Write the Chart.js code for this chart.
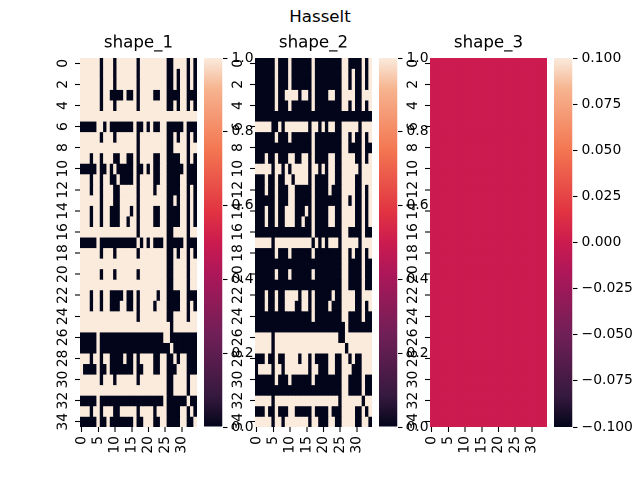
<!DOCTYPE html>
<html>
<head>
<meta charset="utf-8">
<script src="https://cdn.jsdelivr.net/npm/chart.js@4"></script>
<style>
  html, body { margin: 0; background: #fff; overflow: hidden; }
  #page { position: relative; width: 640px; height: 480px; }
  #page canvas { position: absolute; left: 0; top: 0; }
  #suptitle { position: absolute; left: 0; top: 7px; width: 640px; text-align: center;
    font: 16.67px "DejaVu Sans"; line-height: 20px; color: #000; }
</style>
</head>
<body>
<div id="page"><div id="suptitle">Hasselt</div></div>
<script>
var chartTitle = 'Hasselt'
var panelTitles = ['shape_1', 'shape_2', 'shape_3']
var xTickValues = [0, 5, 10, 15, 20, 25, 30]
var yTickValues = [0, 2, 4, 6, 8, 10, 12, 14, 16, 18, 20, 22, 24, 26, 28, 30, 32, 34]
var colorbarTicks1 = [0, 0.2, 0.4, 0.6, 0.8, 1]
var colorbarTicks3 = [-0.1, -0.075, -0.05, -0.025, 0, 0.025, 0.05, 0.075, 0.1]

// rows of cells, one digit per column
var shape1 = [
  '11111 10111 01111 11011 11111 10011 11010',
  '11111 10111 01111 11011 11111 10010 11010',
  '11111 10111 01111 11011 11111 10010 11010',
  '11111 10110 00010 01011 11001 10000 11000',
  '11111 10111 01111 11011 11111 10010 11010',
  '11111 11111 11111 11111 11111 11111 11111',
  '00000 11010 00000 01001 01001 10000 01000',
  '11111 10111 01111 11011 11111 10010 11010',
  '11111 11111 11111 11011 11111 10011 11011',
  '11101 10111 00110 01011 11001 10000 11010',
  '00000 10010 10000 01001 01001 10000 01000',
  '11101 10110 01000 01011 11001 10000 11000',
  '11101 10111 00111 11011 11011 10000 11010',
  '11111 10111 00111 11011 11111 10010 11010',
  '11101 10110 00111 01011 11001 10000 11010',
  '11101 10110 00110 11011 11001 10000 11010',
  '11111 11111 11111 11011 11111 10011 11011',
  '00000 10000 00000 00101 01000 10000 01000',
  '11111 10111 01111 11011 11111 10010 11010',
  '11111 11111 11111 11111 11111 10011 11011',
  '11111 10111 01111 11011 11111 10011 11011',
  '11111 11111 11111 11111 11111 10011 11011',
  '11101 10110 00010 01011 11101 10000 11000',
  '11101 10110 00110 01011 11011 10000 11010',
  '11111 11111 11111 11011 11111 10011 11011',
  '11111 11111 11111 11111 11111 11011 11111',
  '00000 10000 00000 00000 00000 11000 00000',
  '00000 10000 00000 00000 00000 00100 00000',
  '11101 10110 00010 01011 11001 10010 11000',
  '10000 10010 00000 01001 11001 10001 11000',
  '11111 10111 01111 11011 11111 10011 11011',
  '11111 11111 11111 11111 11111 10011 11011',
  '00000 10000 00000 00000 00000 10000 00100',
  '11101 10111 00111 11011 11011 10000 11010',
  '00000 10010 00000 01001 11001 10000 11001'
]

var shape2 = [
  '00000 01000 10000 00100 00000 01100 00101',
  '00000 01000 10000 00100 00000 01101 00101',
  '00000 01000 10000 00100 00000 01101 00101',
  '00000 01001 11101 10100 00110 01111 00111',
  '00000 01000 10000 00100 00000 01101 00101',
  '00000 00000 00000 00000 00000 00000 00000',
  '11111 00101 11111 10110 10110 01111 10111',
  '00000 01000 10000 00100 00000 01101 00101',
  '00000 00000 00000 00100 00000 01100 00100',
  '00010 01000 11001 10100 00110 01111 00101',
  '11111 01101 01111 10110 10110 01111 10111',
  '00010 01001 10111 10100 00110 01111 00111',
  '00010 01000 11000 00100 00100 01111 00101',
  '00000 01000 11000 00100 00000 01101 00101',
  '00010 01001 11000 10100 00110 01111 00101',
  '00010 01001 11001 00100 00110 01111 00101',
  '00000 00000 00000 00100 00000 01100 00100',
  '11111 01111 11111 11010 10111 01111 10111',
  '00000 01000 10000 00100 00000 01101 00101',
  '00000 00000 00000 00000 00000 01100 00100',
  '00000 01000 10000 00100 00000 01100 00100',
  '00000 00000 00000 00000 00000 01100 00100',
  '00010 01001 11101 10100 00010 01111 00111',
  '00010 01001 11001 10100 00100 01111 00101',
  '00000 00000 00000 00100 00000 01100 00100',
  '00000 00000 00000 00000 00000 00100 00000',
  '11111 01111 11111 11111 11111 00111 11111',
  '11111 01111 11111 11111 11111 11011 11111',
  '00010 01001 11101 10100 00110 01101 00111',
  '01111 01101 11111 10110 00110 01110 00111',
  '00000 01000 10000 00100 00000 01100 00100',
  '00000 00000 00000 00000 00000 01100 00100',
  '11111 01111 11111 11111 11111 01111 11011',
  '00010 01000 11000 00100 00100 01111 00101',
  '11111 01101 11111 10110 00110 01111 00110'
]

var shape3 = []
for (var r = 0; r < 35; r++) {
  shape3.push('00000 00000 00000 00000 00000 00000 00000')
}

// rocket colormap
var rocketStops = [
  [0, '#03051a'], [0.083, '#35193e'], [0.25, '#701f57'], [0.417, '#ad1759'], [0.5, '#cb1b4f'],
  [0.583, '#e13342'], [0.75, '#f37651'], [0.917, '#f6b48f'], [1, '#faebdd']
]

function hexToRgb(hex) {
  return [1, 3, 5].map(i => parseInt(hex.substr(i, 2), 16))
}

function rocketColor(t) {
  for (var i = 1; i < rocketStops.length; i++) {
    if (t <= rocketStops[i][0]) {
      var a = rocketStops[i - 1], b = rocketStops[i]
      var f = (t - a[0]) / (b[0] - a[0])
      var ca = hexToRgb(a[1]), cb = hexToRgb(b[1])
      return 'rgb(' + ca.map((c, k) => Math.round(c + (cb[k] - c) * f)).join(',') + ')'
    }
  }
  return rocketStops[rocketStops.length - 1][1]
}

function addCanvas() {
  var canvas = document.createElement('canvas')
  canvas.width = 640
  canvas.height = 480
  document.getElementById('page').appendChild(canvas)
  return canvas
}

var tickFont = { family: 'DejaVu Sans', size: 13.9 }
var top_ = 58, bottom_ = 427

function drawHeatmap(rows, title, left, vmin, vmax) {
  var cells = rows.map(row => row.replace(/ /g, '').split('').map(Number))
  var labels = cells[0].map((v, i) => String(i))

  var datasets = cells.map(row => ({
    data: row.map(() => 1),
    backgroundColor: row.map(v => rocketColor((v - vmin) / (vmax - vmin))),
    borderWidth: 0,
    inflateAmount: 0.3, // hides the seams between neighbouring cells
    barPercentage: 1,
    categoryPercentage: 1
  }))

  new Chart(addCanvas(), {
    type: 'bar',
    data: { labels: labels, datasets: datasets },
    options: {
      responsive: false,
      animation: false,
      devicePixelRatio: 2,
      events: [],
      layout: { padding: { left: left - 30, right: 640 - left - 117, top: 0, bottom: 0 } },
      plugins: {
        legend: { display: false },
        tooltip: { enabled: false },
        title: {
          display: true,
          text: title,
          fullSize: false,
          color: '#000',
          font: { family: 'DejaVu Sans', size: 16.67, weight: 'normal', lineHeight: 1 },
          padding: { top: 35, bottom: 6.33 }
        }
      },
      scales: {
        x: {
          stacked: true,
          border: { display: false },
          grid: { offset: false, drawOnChartArea: false, tickLength: 5, tickWidth: 1.1, tickColor: '#000' },
          ticks: { autoSkip: false, minRotation: 90, maxRotation: 90, padding: 4, color: '#000', font: tickFont },
          afterBuildTicks: s => { s.ticks = s.ticks.filter(t => xTickValues.includes(t.value)) },
          afterFit: s => { s.height = 480 - bottom_ }
        },
        y: {
          stacked: true,
          reverse: true,
          min: 0,
          max: rows.length,
          border: { display: false },
          grid: { drawOnChartArea: false, tickLength: 5, tickWidth: 1.1, tickColor: '#000' },
          ticks: {
            autoSkip: false,
            minRotation: 90,
            maxRotation: 90,
            crossAlign: 'center',
            padding: 3,
            color: '#000',
            font: tickFont,
            callback: v => String(v - 0.5)
          },
          afterBuildTicks: s => { s.ticks = yTickValues.map(v => ({ value: v + 0.5 })) },
          afterFit: s => { s.width = 30 }
        }
      }
    }
  })
}

function drawColorbar(left, vmin, vmax, ticks, digits) {
  new Chart(addCanvas(), {
    type: 'bar',
    data: {
      labels: [''],
      datasets: [{
        data: [[vmin, vmax]],
        borderWidth: 0,
        inflateAmount: 0,
        barPercentage: 1,
        categoryPercentage: 1,
        backgroundColor: function (ctx) {
          var area = ctx.chart.chartArea
          if (!area) return '#000'
          var grad = ctx.chart.ctx.createLinearGradient(0, area.bottom, 0, area.top)
          rocketStops.forEach(s => grad.addColorStop(s[0], s[1]))
          return grad
        }
      }]
    },
    options: {
      responsive: false,
      animation: false,
      events: [],
      layout: { padding: { left: left, right: 640 - left - 18.5 - 60, top: top_, bottom: 480 - bottom_ } },
      plugins: { legend: { display: false }, tooltip: { enabled: false } },
      scales: {
        x: { display: false },
        y: {
          position: 'right',
          min: vmin,
          max: vmax,
          border: { display: false },
          grid: { drawOnChartArea: false, tickLength: 5, tickWidth: 1.1, tickColor: '#000' },
          ticks: {
            autoSkip: false,
            padding: 4,
            color: '#000',
            font: tickFont,
            callback: v => v.toFixed(digits).replace('-', '\u2212')
          },
          afterBuildTicks: s => { s.ticks = ticks.map(v => ({ value: v })) },
          afterFit: s => { s.width = 60 }
        }
      }
    }
  })
}

document.getElementById('suptitle').textContent = chartTitle

drawHeatmap(shape1, panelTitles[0], 80, 0, 1)
drawColorbar(204, 0, 1, colorbarTicks1, 1)
drawHeatmap(shape2, panelTitles[1], 255, 0, 1)
drawColorbar(379, 0, 1, colorbarTicks1, 1)
drawHeatmap(shape3, panelTitles[2], 430, -0.1, 0.1)
drawColorbar(554, -0.1, 0.1, colorbarTicks3, 3)
</script>
</body>
</html>
